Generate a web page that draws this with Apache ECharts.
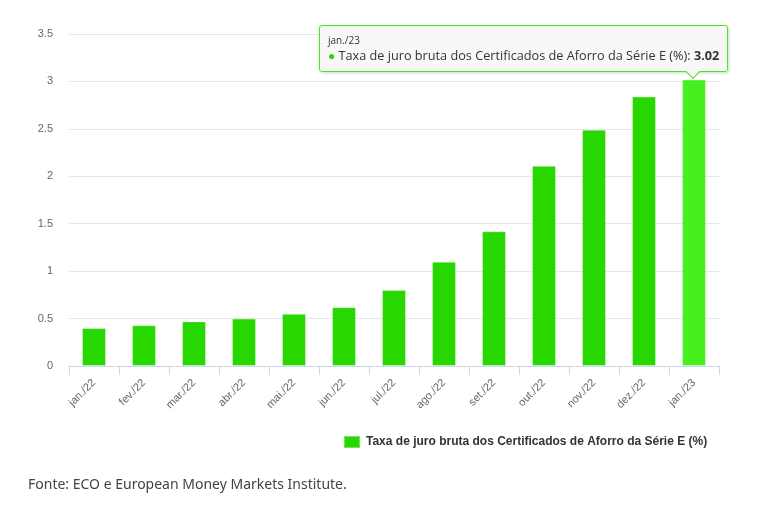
<!DOCTYPE html>
<html>
<head>
<meta charset="utf-8">
<script src="https://cdn.jsdelivr.net/npm/echarts@6/dist/echarts.min.js"></script>
<style>
html,body{margin:0;padding:0;background:#fff;}
#chart{width:760px;height:510px;}
</style>
</head>
<body>
<div id="chart"></div>
<script>
const categories = ['jan./22','fev./22','mar./22','abr./22','mai./22','jun./22','jul./22','ago./22','set./22','out./22','nov./22','dez./22','jan./23'];
const values = [0.40, 0.43, 0.47, 0.50, 0.55, 0.62, 0.80, 1.10, 1.42, 2.11, 2.49, 2.84, 3.02];
const seriesName = 'Taxa de juro bruta dos Certificados de Aforro da Série E (%)';
const sourceText = 'Fonte: ECO e European Money Markets Institute.';
const highlightIndex = 12;

const chart = echarts.init(document.getElementById('chart'), null, {renderer:'canvas'});
const FONT = '"Liberation Sans", Arial, sans-serif';
const TIPFONT = '"Open Sans", "Liberation Sans", sans-serif';

chart.setOption({
  animation: false,
  backgroundColor: '#fff',
  textStyle: {fontFamily: FONT},
  grid: {left: 69, right: 41, top: 34, bottom: 144, containLabel: false},
  legend: {
    data: [seriesName],
    left: 343, top: 435,
    padding: 0,
    itemWidth: 16, itemHeight: 12, itemGap: 6,
    icon: 'rect',
    textStyle: {fontFamily: FONT, fontSize: 12, color: '#333', fontWeight: 'bold', padding:[0,0,0,1]},
    selectedMode: false
  },
  graphic: [{
    type: 'text', left: 28, top: 478,
    style: {text: sourceText, font: '14px "Noto Sans", sans-serif', fill: '#444'}
  }],
  tooltip: {
    trigger: 'item',
    triggerOn: 'none',
    alwaysShowContent: true,
    transitionDuration: 0,
    backgroundColor: 'rgba(247,247,247,0.92)',
    borderColor: '#46e821',
    borderWidth: 1,
    padding: [7, 8, 7, 8],
    extraCssText: 'border-radius:3px;box-shadow:1px 1px 3px rgba(0,0,0,0.18);overflow:visible;',
    textStyle: {fontFamily: TIPFONT, fontSize: 12.7, color: '#333'},
    position: function (point, params, dom, rect, size) {
      const w = size.contentSize[0], h = size.contentSize[1];
      const cx = rect.x + rect.width / 2;
      return [cx + 34 - w, rect.y - h - 8];
    },
    formatter: function (p) {
      return '<div style="font-size:10px;line-height:14px;color:#333;">' + p.name + '</div>' +
        '<div style="font-size:12.7px;line-height:17px;white-space:nowrap;">' +
        '<span style="color:#28d700;font-size:12px;">\u25CF</span> ' + p.seriesName + ': <b>' + p.value.toFixed(2) + '</b></div>' +
        '<div style="position:absolute;right:29px;bottom:-6px;width:9px;height:9px;background:#f7f7f7;' +
        'border-right:1px solid #46e821;border-bottom:1px solid #46e821;transform:rotate(45deg);"></div>';
    }
  },
  xAxis: {
    type: 'category',
    data: categories,
    boundaryGap: true,
    axisLine: {lineStyle: {color: '#ccd6eb', width: 1}},
    axisTick: {show: true, length: 9, lineStyle: {color: '#ccd6eb'}},
    axisLabel: {rotate: 45, fontSize: 11, color: '#666', margin: 15, fontFamily: FONT}
  },
  yAxis: {
    type: 'value',
    min: 0, max: 3.5, interval: 0.5,
    axisLine: {show: false},
    axisTick: {show: false},
    splitLine: {lineStyle: {color: '#e6e6e6', width: 1}},
    axisLabel: {fontSize: 11, color: '#666', margin: 16, fontFamily: FONT}
  },
  series: [{
    name: seriesName,
    type: 'bar',
    data: values,
    barWidth: 24,
    itemStyle: {color: '#28d700', borderColor: 'rgba(255,255,255,0.35)', borderWidth: 1},
    emphasis: {focus: 'none', itemStyle: {color: '#46f01e', borderColor: 'rgba(255,255,255,0.35)'}}
  }]
});

chart.dispatchAction({type: 'highlight', seriesIndex: 0, dataIndex: highlightIndex});
chart.dispatchAction({type: 'showTip', seriesIndex: 0, dataIndex: highlightIndex});
</script>
</body>
</html>
